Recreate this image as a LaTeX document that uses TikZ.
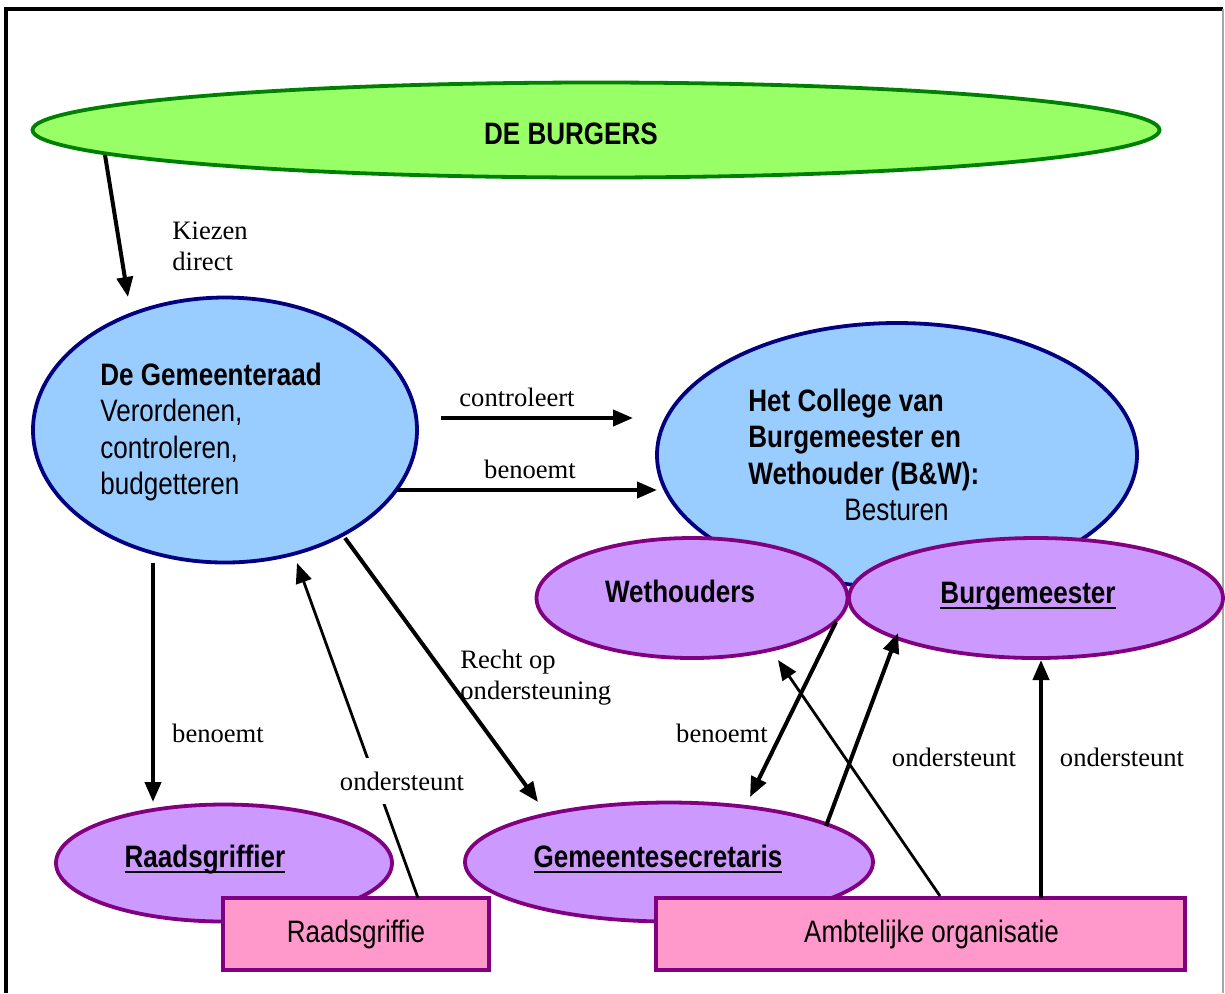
\documentclass[tikz,border=0pt]{standalone}
\usepackage{fontspec}
\setmainfont{Liberation Serif}
\newfontfamily\narrowsans[FakeStretch=0.84]{Liberation Sans}
\usepackage{xcolor}
\usepackage{tikz}
\usetikzlibrary{arrows.meta,shapes.geometric}
\definecolor{burgergroen}{HTML}{99FF66}
\definecolor{donkergroen}{HTML}{008000}
\definecolor{raadblauw}{HTML}{99CCFF}
\definecolor{marine}{HTML}{000080}
\definecolor{lila}{HTML}{CC99FF}
\definecolor{paars}{HTML}{800080}
\definecolor{roze}{HTML}{FF99CC}
\newcommand\ondl[1]{\setbox0\hbox{#1}\rlap{\rule[-3pt]{\wd0}{1.1pt}}\box0}
\tikzset{
	ovaal/.style={ellipse,draw,line width=1.9pt,inner sep=0pt},
	blok/.style={rectangle,draw=paars,fill=roze,line width=2.1pt,inner sep=0pt,
		font=\narrowsans\fontsize{15.5}{18.25}\selectfont},
	kop/.style={inner sep=0pt,font=\narrowsans\fontsize{15.5}{18.25}\selectfont},
	lbl/.style={inner sep=0pt,font=\fontsize{13.3}{15.5}\selectfont},
	pijl/.style={-{Triangle[length=10pt,width=8pt]},line width=2pt},
	dunpijl/.style={-{Triangle[length=10pt,width=8pt]},line width=1.4pt}
}
\begin{document}
\begin{tikzpicture}[x=0.5pt,y=-0.5pt]
	\useasboundingbox (0,0) rectangle (1225,993);
	\draw[line width=1.8pt] (6,993) -- (6,9) -- (1223,9);
	\draw[black!35,line width=0.6pt] (1223,9) -- (1223,993);
	%
	%  SHAPES
	%
	\node[ovaal,draw=donkergroen,fill=burgergroen,minimum width=563.5pt,minimum height=47.5pt] (BURG) at (596,130) {};
	\node[ovaal,draw=marine,fill=raadblauw,minimum width=192pt,minimum height=132.5pt] (RAAD) at (225,430) {};
	\node[ovaal,draw=marine,fill=raadblauw,minimum width=240pt,minimum height=132pt] (COLL) at (897,455) {};
	\node[ovaal,draw=paars,fill=lila,minimum width=155.5pt,minimum height=60pt] (WETH) at (692,598) {};
	\node[ovaal,draw=paars,fill=lila,minimum width=187pt,minimum height=60pt] (BGM) at (1036,598) {};
	\node[ovaal,draw=paars,fill=lila,minimum width=168pt,minimum height=58.5pt] (GRIF) at (224,863) {};
	\node[ovaal,draw=paars,fill=lila,minimum width=204pt,minimum height=59.5pt] (SECR) at (669,862) {};
	\node[blok,minimum width=133pt,minimum height=36pt] (RG) at (356,934) {Raadsgriffie};
	\node[blok,minimum width=264.5pt,minimum height=36pt] (AO) at (920.5,934) {\hspace*{11pt}Ambtelijke organisatie};
	%
	%  TEXTS
	%
	\node[kop,anchor=base] (BURGt) at (571,144) {\textbf{DE BURGERS}};
	\node[kop,anchor=west,align=left] (RAADt) at (100,432) {\textbf{De Gemeenteraad}\\Verordenen,\\controleren,\\budgetteren};
	\node[kop,anchor=west,align=left] (COLLt) at (748,455) {\textbf{Het College van}\\\textbf{Burgemeester en}\\\textbf{Wethouder (B\&W):}\\\hspace*{48pt}Besturen};
	\node[kop,anchor=base] (WETHt) at (680,602) {\textbf{Wethouders}};
	\node[kop,anchor=base] (BGMt) at (1028,603) {\textbf{\ondl{Burgemeester}}};
	\node[kop,anchor=base] (GRIFt) at (205,867) {\textbf{\ondl{Raadsgriffier}}};
	\node[kop,anchor=base] (SECRt) at (658,867) {\textbf{\ondl{Gemeentesecretaris}}};
	%
	%  END POINTS
	%
	\coordinate (k1) at (105,155);  \coordinate (k2) at (128,297);
	\coordinate (c1) at (441,418);  \coordinate (c2) at (633,418);
	\coordinate (b1) at (397,490);  \coordinate (b2) at (657,490);
	\coordinate (g1) at (153,563);  \coordinate (g2) at (153,802);
	\coordinate (o1) at (418,898);  \coordinate (o2) at (297,563);
	\coordinate (r1) at (345,538);  \coordinate (r2) at (538,802);
	\coordinate (w1) at (836,622);  \coordinate (w2) at (750,797);
	\coordinate (s1) at (826,826);  \coordinate (s2) at (898,633);
	\coordinate (a1) at (940,896);  \coordinate (a2) at (778,660);
	\coordinate (a3) at (1041,898); \coordinate (a4) at (1041,660);
	%
	\path[pijl]
	(k1) edge (k2)
	(c1) edge (c2)
	(b1) edge (b2)
	(g1) edge (g2)
	(r1) edge (r2)
	(w1) edge (w2)
	(s1) edge (s2)
	(a3) edge (a4);
	\path[dunpijl]
	(o1) edge (o2)
	(a1) edge (a2);
	%
	%  LABELS
	%
	\node[lbl,anchor=west,align=left] (L1) at (172,246) {Kiezen\\direct};
	\node[lbl] (L2) at (517,397) {controleert};
	\node[lbl] (L3) at (530,469) {benoemt};
	\node[lbl] (L4) at (218,733) {benoemt};
	\node[lbl,fill=white,inner xsep=2pt,inner ysep=7pt] (L5) at (402,781) {ondersteunt};
	\node[lbl,anchor=west,align=left] (L6) at (460,678) {Recht op\\ondersteuning};
	\node[lbl] (L7) at (722,733) {benoemt};
	\node[lbl] (L8) at (954,757) {ondersteunt};
	\node[lbl] (L9) at (1122,757) {ondersteunt};
\end{tikzpicture}
\end{document}
